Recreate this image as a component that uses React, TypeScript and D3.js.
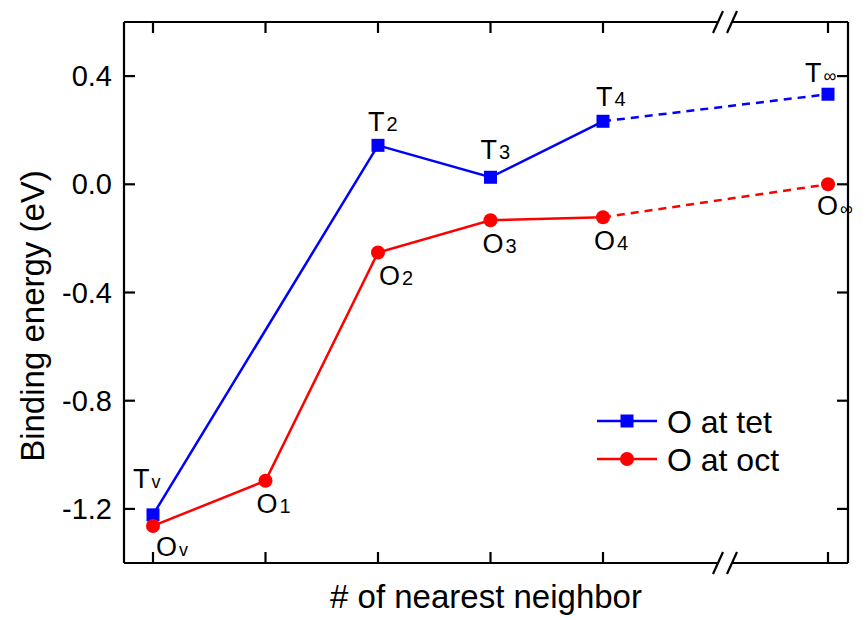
import React, { useEffect } from "react";
import * as d3 from "d3";

const positions = [0, 1, 2, 3, 4, 6];
const subs = ["v", "1", "2", "3", "4", "∞"];
const tetValues: (number | null)[] = [-1.222, null, 0.144, 0.026, 0.233, 0.333];
const octValues: number[] = [-1.263, -1.096, -0.252, -0.133, -0.122, 0.0];
const yTicks = [-1.2, -0.8, -0.4, 0.0, 0.4];
const seriesNames = ["O at tet", "O at oct"];
const colors = ["#0000ff", "#ff0000"];

const W = 866, H = 620;
const L = 124, R = 848, T = 22, B = 563;

export default function App() {
  useEffect(() => {
    document.body.style.margin = "0";
  }, []);
  const x = d3.scaleLinear().domain([0, 6]).range([153, 828]);
  const y = d3.scaleLinear().domain([-1.4, 0.6]).range([B, T]);
  const font = "Arial, 'Liberation Sans', sans-serif";

  const tetPts = positions
    .map((p, i) => ({ p, v: tetValues[i] }))
    .filter((d) => d.v !== null) as { p: number; v: number }[];
  const octPts = positions.map((p, i) => ({ p, v: octValues[i] }));
  const line = d3.line<{ p: number; v: number }>().x((d) => x(d.p)).y((d) => y(d.v));

  const solidTet = tetPts.filter((d) => d.p <= 4);
  const dashTet = tetPts.filter((d) => d.p >= 4);
  const solidOct = octPts.filter((d) => d.p <= 4);
  const dashOct = octPts.filter((d) => d.p >= 4);

  const breakX = 718;
  const tickLen = 11;

  // label offsets (start x, baseline) relative to the point
  const tetLabelOff: [number, number][] = [[-20, -27], [0, 0], [-10, -14], [-10, -18], [-7, -15], [-23, -12]];
  const octLabelOff: [number, number][] = [[3, 30], [-9, 32], [1, 33], [-8, 33], [-9, 33], [-11, 31]];

  const label = (main: string, sub: string, cx: number, cy: number, key: string) => (
    <text key={key} x={cx} y={cy} fontFamily={font} fontSize={27} fill="#000">
      {main}
      <tspan fontSize={sub === "v" || sub === "∞" ? 18 : 20} dx={2} dy={0}>{sub}</tspan>
    </text>
  );

  return (
    <svg width={W} height={H} style={{ display: "block", background: "#fff" }}>
      {/* frame with breaks */}
      <g stroke="#000" strokeWidth={2.2} fill="none">
        <line x1={L} y1={T} x2={L} y2={B} />
        <line x1={R} y1={T} x2={R} y2={B} />
        <line x1={L} y1={T} x2={breakX} y2={T} />
        <line x1={breakX + 14} y1={T} x2={R} y2={T} />
        <line x1={L} y1={B} x2={breakX} y2={B} />
        <line x1={breakX + 14} y1={B} x2={R} y2={B} />
        {[T, B].map((yy) => (
          <g key={yy}>
            <line x1={breakX - 5} y1={yy + 11} x2={breakX + 5} y2={yy - 11} />
            <line x1={breakX + 9} y1={yy + 11} x2={breakX + 19} y2={yy - 11} />
          </g>
        ))}
        {positions.map((p) => (
          <g key={"xt" + p}>
            <line x1={x(p)} y1={B} x2={x(p)} y2={B - tickLen} />
            <line x1={x(p)} y1={T} x2={x(p)} y2={T + tickLen} />
          </g>
        ))}
        {yTicks.map((t) => (
          <g key={"yt" + t}>
            <line x1={L} y1={y(t)} x2={L + tickLen} y2={y(t)} />
            <line x1={R} y1={y(t)} x2={R - tickLen} y2={y(t)} />
          </g>
        ))}
      </g>
      {yTicks.map((t) => (
        <text key={"yl" + t} x={L - 12} y={y(t) + 10} textAnchor="end" fontFamily={font} fontSize={29} fill="#000">
          {t.toFixed(1)}
        </text>
      ))}
      <text
        transform={`translate(44, 316) rotate(-90)`}
        textAnchor="middle"
        fontFamily={font}
        fontSize={33}
        fill="#000"
      >
        Binding energy (eV)
      </text>
      <text x={486} y={608} textAnchor="middle" fontFamily={font} fontSize={33} fill="#000">
        # of nearest neighbor
      </text>

      {/* lines */}
      <path d={line(solidTet) || ""} stroke={colors[0]} strokeWidth={2.5} fill="none" />
      <path d={line(dashTet) || ""} stroke={colors[0]} strokeWidth={2.5} strokeDasharray="8,6" fill="none" />
      <path d={line(solidOct) || ""} stroke={colors[1]} strokeWidth={2.5} fill="none" />
      <path d={line(dashOct) || ""} stroke={colors[1]} strokeWidth={2.5} strokeDasharray="8,6" fill="none" />

      {tetPts.map((d) => (
        <rect key={"ts" + d.p} x={x(d.p) - 6.5} y={y(d.v) - 6.5} width={13} height={13} fill={colors[0]} />
      ))}
      {octPts.map((d) => (
        <circle key={"oc" + d.p} cx={x(d.p)} cy={y(d.v)} r={7} fill={colors[1]} />
      ))}

      {positions.map((p, i) =>
        tetValues[i] === null
          ? null
          : label("T", subs[i], x(p) + tetLabelOff[i][0], y(tetValues[i] as number) + tetLabelOff[i][1], "tl" + i)
      )}
      {positions.map((p, i) =>
        label("O", subs[i], x(p) + octLabelOff[i][0], y(octValues[i]) + octLabelOff[i][1], "ol" + i)
      )}

      {/* legend */}
      {seriesNames.map((n, i) => {
        const ly = 421 + i * 38;
        return (
          <g key={"lg" + i}>
            <line x1={597} y1={ly} x2={657} y2={ly} stroke={colors[i]} strokeWidth={2.5} />
            {i === 0 ? (
              <rect x={627 - 6.5} y={ly - 6.5} width={13} height={13} fill={colors[i]} />
            ) : (
              <circle cx={627} cy={ly} r={7} fill={colors[i]} />
            )}
            <text x={667} y={ly + 12} fontFamily={font} fontSize={32} fill="#000">
              {n}
            </text>
          </g>
        );
      })}
    </svg>
  );
}
